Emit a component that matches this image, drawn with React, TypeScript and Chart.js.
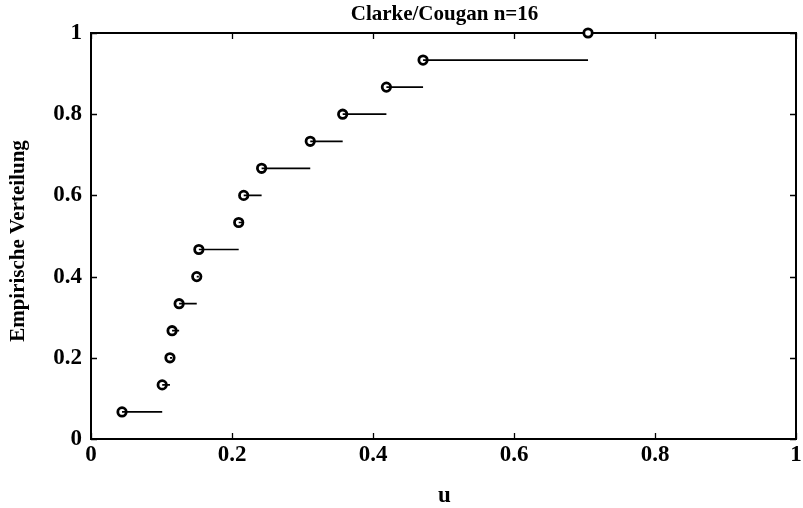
import { useEffect, useRef } from "react";
import { Chart, registerables } from "chart.js";

Chart.register(...registerables);

// Sorted sample values u and the empirical distribution level reached at each
const sampleU = [0.044, 0.101, 0.112, 0.115, 0.125, 0.150, 0.153, 0.2095, 0.2166, 0.242, 0.311, 0.357, 0.419, 0.471, 0.705];
const cdfLevels = [0.0667, 0.1333, 0.2, 0.2667, 0.3333, 0.4, 0.4667, 0.5333, 0.6, 0.6667, 0.7333, 0.8, 0.8667, 0.9333, 1.0];

const xTicks = [0, 0.2, 0.4, 0.6, 0.8, 1];
const yTicks = [0, 0.2, 0.4, 0.6, 0.8, 1];
const xTickLabels = ["0", "0.2", "0.4", "0.6", "0.8", "1"];
const yTickLabels = ["0", "0.2", "0.4", "0.6", "0.8", "1"];

const titleText = "Clarke/Cougan n=16";
const xAxisLabel = "u";
const yAxisLabel = "Empirische Verteilung";

const FONT = "'Liberation Serif', 'Times New Roman', serif";

// Horizontal step segments: each level runs from its sample to the next one
function buildSteps() {
  const pts: { x: number; y: number | null }[] = [];
  for (let i = 0; i < sampleU.length - 1; i++) {
    pts.push({ x: sampleU[i], y: cdfLevels[i] });
    pts.push({ x: sampleU[i + 1], y: cdfLevels[i] });
    pts.push({ x: sampleU[i + 1], y: null });
  }
  return pts;
}

// Box around the plot with inward tick marks on all four sides
const framePlugin = {
  id: "matlabFrame",
  beforeDatasetsDraw(chart: any) {
    const { ctx, chartArea } = chart;
    const xs = chart.scales.x;
    const ys = chart.scales.y;
    const { left, right, top, bottom } = chartArea;
    ctx.save();
    ctx.strokeStyle = "#000";
    ctx.lineWidth = 1.3;
    const tl = 6;
    ctx.beginPath();
    xTicks.forEach((v) => {
      const px = Math.round(xs.getPixelForValue(v)) + 0.5;
      ctx.moveTo(px, bottom);
      ctx.lineTo(px, bottom - tl);
      ctx.moveTo(px, top);
      ctx.lineTo(px, top + tl);
    });
    yTicks.forEach((v) => {
      const py = Math.round(ys.getPixelForValue(v)) + 0.5;
      ctx.moveTo(left, py);
      ctx.lineTo(left + tl, py);
      ctx.moveTo(right, py);
      ctx.lineTo(right - tl, py);
    });
    ctx.stroke();
    ctx.lineWidth = 2;
    ctx.strokeRect(left, top, right - left, bottom - top);
    ctx.restore();
  },
  afterDraw(chart: any) {
    const { ctx, chartArea } = chart;
    const xs = chart.scales.x;
    const ys = chart.scales.y;
    const { left, right, top, bottom } = chartArea;
    ctx.save();
    ctx.fillStyle = "#000";

    ctx.font = `bold 23px ${FONT}`;
    ctx.textAlign = "center";
    ctx.textBaseline = "middle";
    xTicks.forEach((v, i) => {
      ctx.fillText(xTickLabels[i], xs.getPixelForValue(v), bottom + 16);
    });
    ctx.textAlign = "right";
    yTicks.forEach((v, i) => {
      ctx.fillText(yTickLabels[i], left - 9, ys.getPixelForValue(v));
    });

    ctx.textBaseline = "alphabetic";
    ctx.textAlign = "center";
    ctx.font = `bold 21px ${FONT}`;
    ctx.fillText(titleText, (left + right) / 2 + 1, top - 13);

    ctx.font = `bold 23px ${FONT}`;
    ctx.fillText(xAxisLabel, (left + right) / 2 + 1, bottom + 63);

    ctx.font = `bold 21px ${FONT}`;
    ctx.translate(24, (top + bottom) / 2 + 5);
    ctx.rotate(-Math.PI / 2);
    ctx.fillText(yAxisLabel, 0, 0);
    ctx.restore();
  },
};

export default function App() {
  const canvasRef = useRef<HTMLCanvasElement | null>(null);

  useEffect(() => {
    const canvas = canvasRef.current;
    if (!canvas) return;
    const chart = new Chart(canvas, {
      type: "scatter",
      data: {
        datasets: [
          {
            label: "steps",
            data: buildSteps() as any,
            showLine: true,
            spanGaps: false,
            borderColor: "#000",
            borderWidth: 1.7,
            pointRadius: 0,
            pointHoverRadius: 0,
          },
          {
            label: "samples",
            data: sampleU.map((u, i) => ({ x: u, y: cdfLevels[i] })),
            showLine: false,
            pointStyle: "circle",
            pointRadius: 4.2,
            pointBorderWidth: 2.8,
            borderColor: "#000",
            backgroundColor: "#fff",
            clip: false as any,
          },
        ],
      },
      options: {
        responsive: false,
        animation: false,
        devicePixelRatio: 1,
        layout: { padding: { left: 0, right: 7, top: 33, bottom: 0 } },
        plugins: {
          legend: { display: false },
          title: { display: false },
          tooltip: { enabled: false },
        },
        events: [],
        scales: {
          x: {
            type: "linear",
            min: 0,
            max: 1,
            ticks: { display: false, stepSize: 0.2 },
            grid: { display: false },
            border: { display: false },
            afterFit: (s: any) => {
              s.height = 69;
            },
          },
          y: {
            type: "linear",
            min: 0,
            max: 1,
            ticks: { display: false, stepSize: 0.2 },
            grid: { display: false },
            border: { display: false },
            afterFit: (s: any) => {
              s.width = 91;
            },
          },
        },
      },
      plugins: [framePlugin],
    });
    return () => chart.destroy();
  }, []);

  return (
    <div style={{ position: "absolute", left: 0, top: 0, width: 803, height: 508, background: "#fff" }}>
      <canvas ref={canvasRef} width={803} height={508} />
    </div>
  );
}
